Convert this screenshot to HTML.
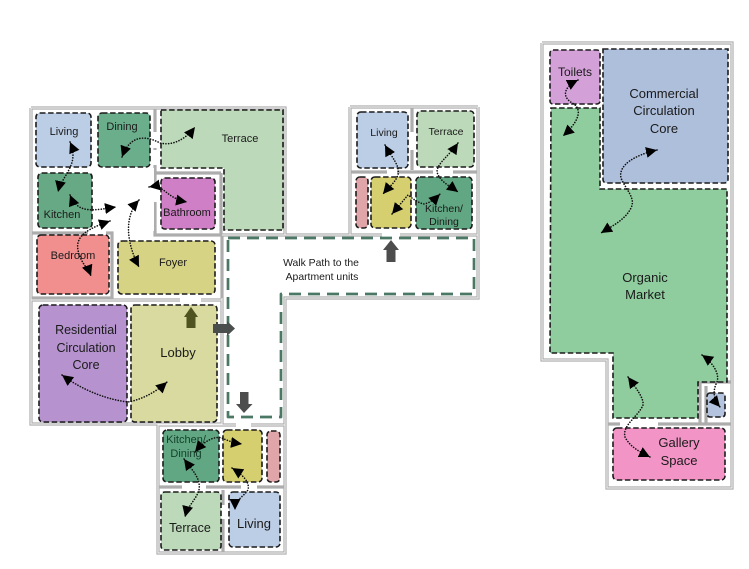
<!DOCTYPE html>
<html><head><meta charset="utf-8">
<style>
html,body{margin:0;padding:0;background:#fff}
svg{display:block}
text{font-family:"Liberation Sans",sans-serif;text-anchor:middle}
.w{fill:none;stroke:#adadad;stroke-width:3.2;stroke-linejoin:miter}
.wi{fill:none;stroke:#f4f4f4;stroke-width:1}
.r{stroke:#1c1c1c;stroke-width:1.6;stroke-dasharray:5.5 2.6}
.a{fill:none;stroke:#111;stroke-width:1.6;stroke-linecap:round;stroke-dasharray:0.1 2.6;marker-start:url(#m);marker-end:url(#m)}
</style></head><body>
<svg width="749" height="569" viewBox="0 0 749 569" xmlns="http://www.w3.org/2000/svg">
<defs>
<marker id="m" markerUnits="userSpaceOnUse" markerWidth="14" markerHeight="14" refX="11" refY="6" orient="auto-start-reverse">
<path d="M0 0.5L11 6L0 11.5Z" fill="#000"/>
</marker>
</defs>
<rect width="749" height="569" fill="#fff"/>

<!-- walls -->
<g>
<path class="w" d="M31 108H285V235M31 108V424H222V235M31 300H222M155 108V150M155 165V235H221M221 173H155M221 173V235M31 233H112V298H31M222 235H478M478 107V298H285V425M350 107H478M350 107V235M412 107V170M285 298V425H158V553H285V425M158 487H285M223 490V553M350 172H478"/>
<path class="w" d="M542 43H732V488H607V360H542V43M607 424H732M700 382H732M700 382V424M706 386V424"/>
<path class="wi" d="M31 108H285V235M31 108V424H222V298M31 300H222M222 235H478M478 107V298H285V425M350 107H478M350 107V235M285 425H158V553H285V425"/>
<path class="wi" d="M542 43H732V488H607V360H542V43"/>
</g>
<!-- door gaps -->
<g fill="#fff">
<rect x="180" y="296" width="21" height="8"/>
<rect x="236" y="422" width="15" height="8"/>
<rect x="382" y="232" width="18" height="8"/>
<rect x="92" y="168" width="62" height="63"/>
<rect x="88" y="230" width="18" height="6"/>
<rect x="153" y="132" width="5" height="16"/>
<rect x="153" y="184" width="5" height="18"/>
<rect x="182" y="485" width="24" height="6"/>
<rect x="241" y="485" width="16" height="6"/>
<rect x="387" y="170" width="10" height="5"/>
<rect x="433" y="170" width="20" height="5"/>
<rect x="410" y="132" width="5" height="18"/>
<rect x="620" y="421" width="38" height="6"/>
<rect x="221" y="505" width="4" height="14"/>
</g>

<!-- walk path -->
<path d="M228 238H474V294H281V417H228Z" fill="#fff" stroke="#4a7865" stroke-width="2.7" stroke-dasharray="12 7" stroke-linejoin="round"/>

<!-- rooms -->
<g>
<rect class="r" x="36" y="113" width="55" height="54" rx="4" fill="#bccde6"/>
<rect class="r" x="98" y="113" width="52" height="54" rx="4" fill="#6bae8c"/>
<path class="r" d="M161 110H283V230H224V168H161Z" fill="#bcdab9"/>
<rect class="r" x="38" y="173" width="54" height="55" rx="4" fill="#66a984"/>
<rect class="r" x="161" y="178" width="54" height="51" rx="4" fill="#cf7fc5"/>
<rect class="r" x="37" y="235" width="72" height="59" rx="4" fill="#f08f8e"/>
<rect class="r" x="118" y="241" width="97" height="53" rx="4" fill="#d6d385"/>
<rect class="r" x="39" y="305" width="88" height="117" rx="4" fill="#b693cf"/>
<rect class="r" x="131" y="305" width="86" height="117" rx="4" fill="#d9da9f"/>
<rect class="r" x="163" y="430" width="56" height="52" rx="4" fill="#62a783"/>
<rect class="r" x="223" y="430" width="39" height="52" rx="4" fill="#d5cf70"/>
<rect class="r" x="267" y="431" width="13" height="51" rx="4" fill="#dfa5a9"/>
<rect class="r" x="161" y="492" width="60" height="58" rx="4" fill="#bcdab9"/>
<rect class="r" x="229" y="492" width="51" height="55" rx="4" fill="#bccde6"/>
<rect class="r" x="357" y="112" width="51" height="56" rx="4" fill="#bccde6"/>
<rect class="r" x="417" y="111" width="57" height="56" rx="4" fill="#bcdab9"/>
<rect class="r" x="356" y="177" width="12" height="51" rx="4" fill="#dfa5a9"/>
<rect class="r" x="371" y="177" width="40" height="51" rx="4" fill="#d5cf70"/>
<rect class="r" x="416" y="177" width="56" height="52" rx="4" fill="#62a783"/>
<rect class="r" x="550" y="50" width="50" height="54" rx="3" fill="#d3a1d8"/>
<path class="r" d="M603 49H728V179Q728 183 724 183H607Q603 183 603 179Z" fill="#aebfdc"/>
<path class="r" d="M551 108H600V189H727V382H698V418H613V353H550Z" fill="#8fcc9e"/>
<rect class="r" x="707" y="393" width="18" height="24" rx="3" fill="#b4c4de"/>
<rect class="r" x="613" y="428" width="112" height="52" rx="4" fill="#f295c6"/>
</g>

<!-- big arrows -->
<path d="M191 307L198 317H195.5V328H186.5V317H184Z" fill="#4f5320"/>
<path d="M213 324H227V321L235 328.5L227 336V333H213Z" fill="#4a4f4d"/>
<path d="M240 392H248.500V404H252.500L244 413L236 404H240Z" fill="#4d4d4d"/>
<path d="M391 240L399 250H395.500V262H386.500V250H383Z" fill="#4d4d4d"/>

<!-- labels -->
<g fill="#1a1a1a">
<text x="64" y="135" font-size="11">Living</text>
<text x="122" y="130" font-size="11">Dining</text>
<text x="240" y="142" font-size="11">Terrace</text>
<text x="62" y="218" font-size="11">Kitchen</text>
<text x="187" y="216" font-size="11">Bathroom</text>
<text x="73" y="259" font-size="11">Bedroom</text>
<text x="173" y="266" font-size="11">Foyer</text>
<text x="86" y="334" font-size="12.5">Residential</text>
<text x="86" y="352" font-size="12.5">Circulation</text>
<text x="86" y="369" font-size="12.5">Core</text>
<text x="178" y="357" font-size="13">Lobby</text>
<text x="186" y="443" font-size="11" fill="#123f2a">Kitchen/</text>
<text x="186" y="457" font-size="11" fill="#123f2a">Dining</text>
<text x="190" y="532" font-size="12.5">Terrace</text>
<text x="254" y="528" font-size="13">Living</text>
<text x="384" y="136" font-size="10.5">Living</text>
<text x="446" y="135" font-size="10.5">Terrace</text>
<text x="444" y="212" font-size="10.5">Kitchen/</text>
<text x="444" y="225" font-size="10.5">Dining</text>
<text x="321" y="266" font-size="10.400">Walk Path to the</text>
<text x="322" y="280" font-size="10.400">Apartment units</text>
<text x="575" y="76" font-size="12">Toilets</text>
<text x="664" y="98" font-size="13">Commercial</text>
<text x="664" y="115" font-size="13">Circulation</text>
<text x="664" y="133" font-size="13">Core</text>
<text x="645" y="282" font-size="13">Organic</text>
<text x="645" y="299" font-size="13">Market</text>
<text x="679" y="447" font-size="13">Gallery</text>
<text x="679" y="465" font-size="13">Space</text>
</g>

<!-- connector arrows -->
<g>
<path class="a" d="M70 142C80 165 62 175 58 192"/>
<path class="a" d="M122 157C130 135 145 135 160 143C172 146 185 140 195 127"/>
<path class="a" d="M70 195C78 215 95 210 116 207"/>
<path class="a" d="M110 221C90 228 75 235 78 250C80 262 88 268 91 276"/>
<path class="a" d="M139 200C125 215 125 240 139 267"/>
<path class="a" d="M149 187C165 184 165 198 187 202"/>
<path class="a" d="M62 375C85 392 110 400 128 402C140 400 155 393 167 382"/>
<path class="a" d="M195 452C205 440 215 436 222 438C228 441 235 443 242 444"/>
<path class="a" d="M184 459C192 470 201 478 199 490C196 500 188 505 185 517"/>
<path class="a" d="M232 468C243 475 250 482 248 490C243 497 235 500 235 510"/>
<path class="a" d="M385 145C392 158 400 165 398 175C395 183 388 188 383 194"/>
<path class="a" d="M458 143C450 155 437 163 437 172C440 182 450 186 458 192"/>
<path class="a" d="M392 214L408 195C412 198 418 203 424 204C430 203 436 198 440 194"/>
<path class="a" d="M578 80C562 88 562 98 574 104C584 112 575 125 563 136"/>
<path class="a" d="M657 150C635 155 618 165 621 178C626 190 636 198 631 208C625 220 612 226 601 233"/>
<path class="a" d="M628 377C636 388 644 398 643 405C638 417 622 425 625 437C630 447 640 452 650 457"/>
<path class="a" d="M702 355C712 362 720 373 717 382C712 392 714 400 720 407"/>
</g>
</svg>
</body></html>
